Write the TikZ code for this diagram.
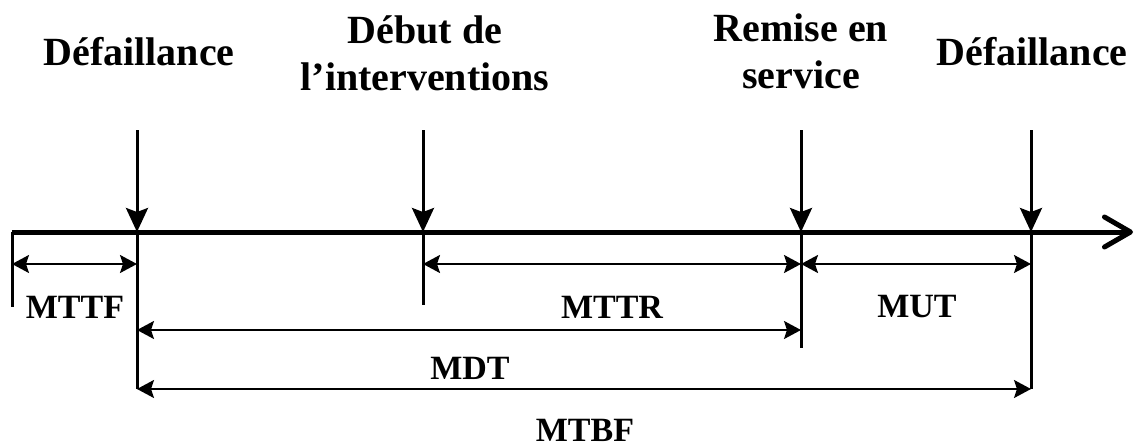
\documentclass[tikz,border=0pt]{standalone}
\usepackage{fontspec}
\setmainfont{Liberation Serif}
\usetikzlibrary{arrows.meta}
\tikzset{
 headtext/.style={font=\bfseries\fontsize{40}{47}\selectfont, align=center, inner sep=0pt},
 durtext/.style={font=\bfseries\fontsize{34}{40}\selectfont, inner sep=0pt},
 axis/.style={line width=5pt, -{Straight Barb[length=26pt,width=30pt,round]}},
 event/.style={line width=3pt, -{Stealth[length=24pt,width=22pt,inset=4pt]}},
 tickline/.style={line width=3pt},
 span/.style={line width=2pt, {Stealth[length=17pt,width=18pt,inset=3pt]}-{Stealth[length=17pt,width=18pt,inset=3pt]}}
}
\begin{document}
\begin{tikzpicture}[
 x=1pt,
 y=-1pt
]
\useasboundingbox (0,0) rectangle (1136,447);
\coordinate (o) at (12,232);
\coordinate (f1) at (137,232);
\coordinate (di) at (423,232);
\coordinate (rs) at (801,232);
\coordinate (f2) at (1031,232);
\coordinate (end) at (1133,232);
\coordinate (f1top) at (137,130);
\coordinate (ditop) at (423,130);
\coordinate (rstop) at (801,130);
\coordinate (f2top) at (1031,130);
\coordinate (obot) at (12,307);
\coordinate (f1bot) at (137,389);
\coordinate (dibot) at (423,305);
\coordinate (rsbot) at (801,348);
\coordinate (f2bot) at (1031,389);
\coordinate (lvA) at (0,264);
\coordinate (lvB) at (0,330);
\coordinate (lvC) at (0,389);
\draw[tickline] (o) -- (obot);
\draw[tickline] (f1) -- (f1bot);
\draw[tickline] (di) -- (dibot);
\draw[tickline] (rs) -- (rsbot);
\draw[tickline] (f2) -- (f2bot);
\draw[axis] (o) -- (end);
\draw[event] (f1top) -- (f1);
\draw[event] (ditop) -- (di);
\draw[event] (rstop) -- (rs);
\draw[event] (f2top) -- (f2);
\draw[span] (o |- lvA) -- (f1 |- lvA);
\draw[span] (di |- lvA) -- (rs |- lvA);
\draw[span] (rs |- lvA) -- (f2 |- lvA);
\draw[span] (f1 |- lvB) -- (rs |- lvB);
\draw[span] (f1 |- lvC) -- (f2 |- lvC);
\node[headtext, anchor=base] (fail1) at (139,65) {Défaillance};
\node[headtext, anchor=north] (debut) at (425,16) {Début de\\l’interventions};
\node[headtext, anchor=north] (remise) at (801,14) {Remise en\\service};
\node[headtext, anchor=base] (fail2) at (1032,65) {Défaillance};
\node[durtext] (mttf) at (75,307) {MTTF};
\node[durtext] (mttr) at (612,307) {MTTR};
\node[durtext] (mut) at (917,307) {MUT};
\node[durtext] (mdt) at (470,368) {MDT};
\node[durtext] (mtbf) at (585,430) {MTBF};
\end{tikzpicture}
\end{document}
